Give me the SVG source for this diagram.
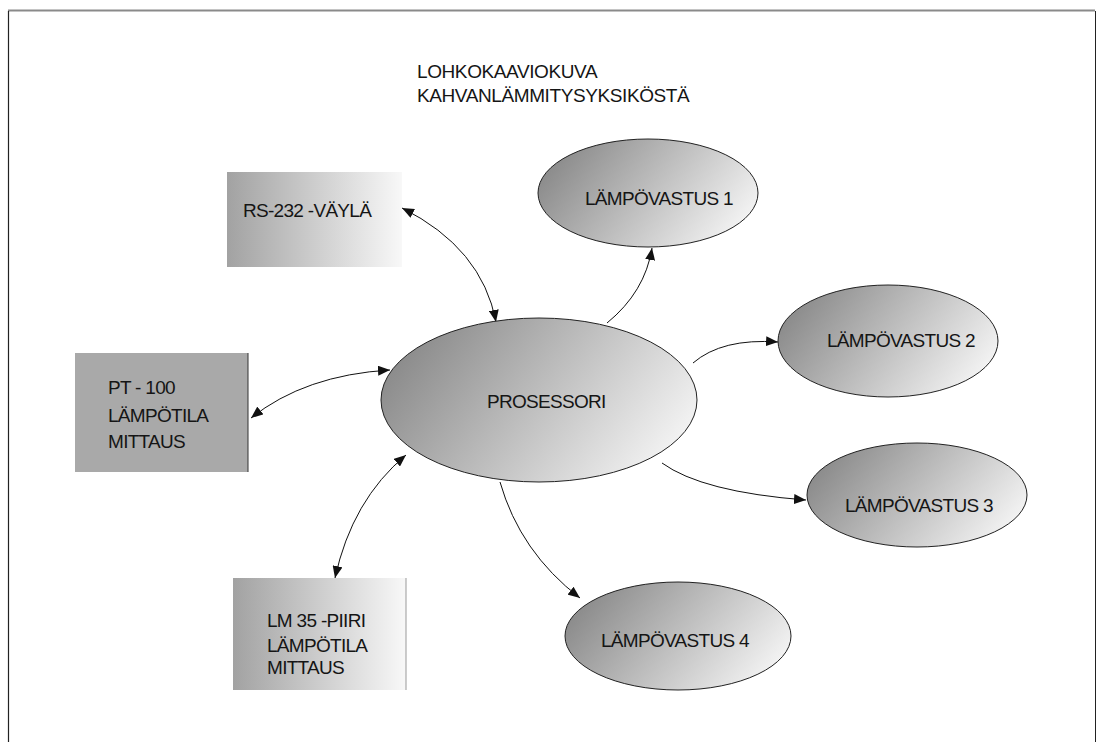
<svg xmlns="http://www.w3.org/2000/svg" width="1100" height="742" viewBox="0 0 1100 742">
  <defs>
    <linearGradient id="boxFill" x1="0" y1="0" x2="1" y2="0">
      <stop offset="0" stop-color="#a2a2a2"/>
      <stop offset="1" stop-color="#f8f8f8"/>
    </linearGradient>
    <linearGradient id="ovalFill" x1="0" y1="0.3" x2="1" y2="0.7">
      <stop offset="0" stop-color="#888888"/>
      <stop offset="1" stop-color="#f6f6f6"/>
    </linearGradient>
    <marker id="arrow" viewBox="0 0 12 10" refX="12" refY="5" markerWidth="12" markerHeight="10" markerUnits="userSpaceOnUse" orient="auto-start-reverse">
      <path d="M0,0 L12,5 L0,10 Z" fill="#111"/>
    </marker>
    <style>
      text { font-family: "Liberation Sans", Arial, sans-serif; font-size: 19px; fill: #151515; letter-spacing: -0.7px; }
      .title { letter-spacing: -0.4px; }
      .oval { fill: url(#ovalFill); stroke: #222; stroke-width: 1; }
      .box { fill: url(#boxFill); }
      .link { fill: none; stroke: #111; stroke-width: 1; }
    </style>
  </defs>

  <!-- page frame -->
  <g id="frame">
    <line x1="8" y1="10.5" x2="1095" y2="10.5" stroke="#8a8a8a" stroke-width="2"/>
    <line x1="8.5" y1="11" x2="8.5" y2="742" stroke="#222" stroke-width="1.2"/>
    <line x1="1095.5" y1="11" x2="1095.5" y2="742" stroke="#222" stroke-width="1"/>
  </g>

  <!-- title -->
  <g id="title">
    <text class="title" x="417" y="78">LOHKOKAAVIOKUVA</text>
    <text class="title" x="417" y="102">KAHVANLÄMMITYSYKSIKÖSTÄ</text>
  </g>

  <!-- connectors -->
  <g id="connectors">
    <path class="link" d="M402,208 Q482,248 496,322" marker-start="url(#arrow)" marker-end="url(#arrow)"/>
    <path class="link" d="M251,418 Q305,375 390,370" marker-start="url(#arrow)" marker-end="url(#arrow)"/>
    <path class="link" d="M335,578 Q352,500 406,455" marker-start="url(#arrow)" marker-end="url(#arrow)"/>
    <path class="link" d="M607,323 Q645,292 652,248" marker-end="url(#arrow)"/>
    <path class="link" d="M693,363 Q722,338 778,342" marker-end="url(#arrow)"/>
    <path class="link" d="M662,463 Q702,492 806,500" marker-end="url(#arrow)"/>
    <path class="link" d="M500,482 Q520,552 580,598" marker-end="url(#arrow)"/>
  </g>

  <g id="rs232">
    <rect class="box" x="227" y="172" width="175" height="95"/>
    <text x="243" y="217">RS-232 -VÄYLÄ</text>
  </g>

  <g id="pt100">
    <rect x="75" y="353" width="173" height="119" fill="#a9a9a9"/>
    <line x1="248" y1="353" x2="248" y2="472" stroke="#333" stroke-width="1"/>
    <text x="108" y="394">PT - 100</text>
    <text x="108" y="422">LÄMPÖTILA</text>
    <text x="108" y="448">MITTAUS</text>
  </g>

  <g id="lm35">
    <rect class="box" x="233" y="578" width="173" height="112"/>
    <line x1="406" y1="578" x2="406" y2="690" stroke="#999" stroke-width="1"/>
    <text x="267" y="627">LM 35 -PIIRI</text>
    <text x="267" y="652">LÄMPÖTILA</text>
    <text x="267" y="674">MITTAUS</text>
  </g>

  <g id="prosessori">
    <ellipse class="oval" cx="539" cy="400" rx="158" ry="82"/>
    <text x="487" y="408">PROSESSORI</text>
  </g>

  <g id="vastus1">
    <ellipse class="oval" cx="648" cy="193" rx="110" ry="54"/>
    <text x="585" y="205">LÄMPÖVASTUS 1</text>
  </g>

  <g id="vastus2">
    <ellipse class="oval" cx="888" cy="341" rx="110" ry="56"/>
    <text x="827" y="347">LÄMPÖVASTUS 2</text>
  </g>

  <g id="vastus3">
    <ellipse class="oval" cx="917" cy="495" rx="110" ry="52"/>
    <text x="845" y="512">LÄMPÖVASTUS 3</text>
  </g>

  <g id="vastus4">
    <ellipse class="oval" cx="678" cy="636" rx="113" ry="54"/>
    <text x="601" y="647">LÄMPÖVASTUS 4</text>
  </g>
</svg>
